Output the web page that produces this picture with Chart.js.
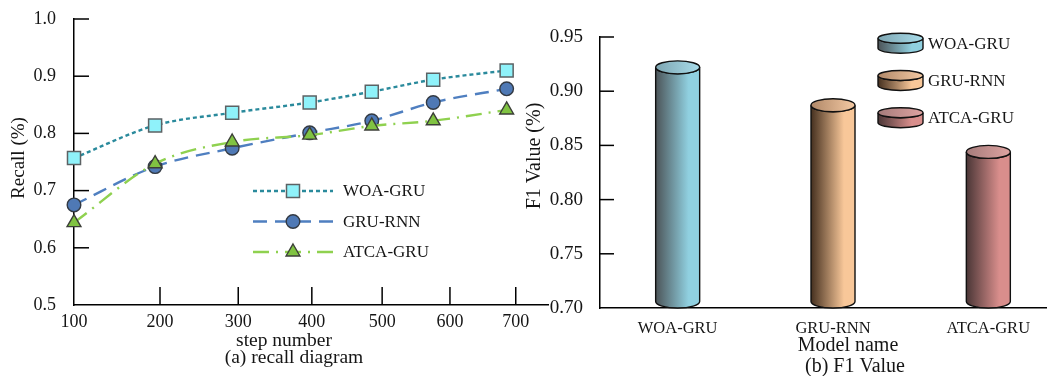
<!DOCTYPE html>
<html>
<head>
<meta charset="utf-8">
<script src="https://cdn.jsdelivr.net/npm/chart.js@4.4.1/dist/chart.umd.min.js"></script>
<style>
  html, body { margin: 0; padding: 0; background: #fff; overflow: hidden; }
  #wrap { position: relative; width: 1047px; height: 376px; overflow: hidden; }
  canvas { position: absolute; top: 0; }
  #recall { left: 0; }
  #f1 { left: 520px; }
</style>
</head>
<body>
<div id="wrap">
  <canvas id="recall" width="590" height="376"></canvas>
  <canvas id="f1" width="560" height="376"></canvas>
</div>
<script>
// ---- data: (a) recall per step number ----
const stepNumbers = [100, 194, 292, 397, 485, 575, 686];
const stepTicks   = [100, 200, 300, 400, 500, 600, 700];
const recallTicks = [0.5, 0.6, 0.7, 0.8, 0.9, 1.0];
const woaRecall   = [0.757, 0.814, 0.836, 0.854, 0.873, 0.894, 0.910];
const gruRecall   = [0.675, 0.742, 0.774, 0.801, 0.822, 0.854, 0.878];
const atcaRecall  = [0.644, 0.747, 0.785, 0.797, 0.813, 0.822, 0.841];

// ---- data: (b) F1 value per model ----
const f1Models = ['WOA-GRU', 'GRU-RNN', 'ATCA-GRU'];
const f1Values = [0.922, 0.887, 0.844];
const f1Ticks  = [0.70, 0.75, 0.80, 0.85, 0.90, 0.95];

const SERIF = "'Liberation Serif', 'Times New Roman', serif";
const INK = '#151515';
const STEP_EXPONENT = 0.82;

Chart.defaults.font.family = SERIF;
Chart.defaults.color = INK;

// Step axis: a linear scale with a mild power warp, compressing the larger steps
class PowerScale extends Chart.LinearScale {
  static id = 'power';
  static defaults = Chart.LinearScale.defaults;
  getPixelForValue(value) {
    const w = v => Math.pow(v, STEP_EXPONENT);
    const a = w(this.min), b = w(this.max);
    return this.getPixelForDecimal((w(value) - a) / (b - a));
  }
  getValueForPixel(pixel) {
    const a = Math.pow(this.min, STEP_EXPONENT), b = Math.pow(this.max, STEP_EXPONENT);
    return Math.pow(a + this.getDecimalForPixel(pixel) * (b - a), 1 / STEP_EXPONENT);
  }
}
Chart.register(PowerScale);

// Fixed axis thickness, without extra room reserved for edge labels
const fixWidth = w => s => { s.width = w; s.paddingTop = 0; s.paddingBottom = 0; };
const fixHeight = h => s => { s.height = h; s.paddingLeft = 0; s.paddingRight = 0; };

// Tick marks drawn on the inner side of the axes
const inwardTicks = {
  id: 'inwardTicks',
  beforeDatasetsDraw(chart, args, opts) {
    const { ctx, chartArea: a } = chart;
    const xs = chart.scales.x, ys = chart.scales.y;
    ctx.save();
    ctx.strokeStyle = '#000';
    ctx.lineWidth = 1.5;
    if (opts.x) {
      xs.ticks.forEach(t => {
        const px = xs.getPixelForValue(t.value);
        if (Math.abs(px - a.left) < 2) return;
        ctx.beginPath(); ctx.moveTo(px, a.bottom); ctx.lineTo(px, a.bottom - opts.x); ctx.stroke();
      });
    }
    if (opts.y) {
      ys.ticks.forEach(t => {
        const py = ys.getPixelForValue(t.value);
        if (Math.abs(py - a.bottom) < 2) return;
        ctx.beginPath(); ctx.moveTo(a.left, py); ctx.lineTo(a.left + opts.y, py); ctx.stroke();
      });
    }
    ctx.restore();
  }
};

// Axis titles and panel captions
const captions = {
  id: 'captions',
  afterDraw(chart, args, opts) {
    const ctx = chart.ctx;
    (opts.items || []).forEach(it => {
      ctx.save();
      ctx.font = it.size + 'px ' + SERIF;
      ctx.fillStyle = INK;
      ctx.textAlign = 'center';
      ctx.textBaseline = 'middle';
      ctx.translate(it.x, it.y);
      if (it.rotate) ctx.rotate(-Math.PI / 2);
      ctx.fillText(it.text, 0, 0);
      ctx.restore();
    });
  }
};

// Legend for the line panel: dashed stroke with its marker in the middle
const lineLegend = {
  id: 'lineLegend',
  afterDraw(chart, args, opts) {
    const ctx = chart.ctx;
    chart.data.datasets.forEach((ds, i) => {
      const y = opts.y + i * opts.gap;
      ctx.save();
      ctx.strokeStyle = ds.borderColor;
      ctx.lineWidth = ds.borderWidth;
      ctx.setLineDash(ds.borderDash || []);
      ctx.beginPath(); ctx.moveTo(opts.x0, y); ctx.lineTo(opts.x1, y); ctx.stroke();
      ctx.setLineDash([]);
      ctx.fillStyle = ds.pointBackgroundColor;
      ctx.strokeStyle = ds.pointBorderColor;
      ctx.lineWidth = ds.pointBorderWidth;
      Chart.helpers.drawPoint(ctx, { pointStyle: ds.pointStyle, rotation: 0, radius: ds.pointRadius, borderWidth: ds.pointBorderWidth }, (opts.x0 + opts.x1) / 2, y);
      ctx.font = opts.size + 'px ' + SERIF;
      ctx.fillStyle = INK;
      ctx.textAlign = 'left';
      ctx.textBaseline = 'middle';
      ctx.fillText(ds.label, opts.textX, y + 1);
      ctx.restore();
    });
  }
};

// Shaded cylinder shape used for the F1 bars and their legend keys
function cylinder(ctx, cx, topY, bottomY, rx, ry, pal) {
  const body = ctx.createLinearGradient(cx - rx, 0, cx + rx, 0);
  body.addColorStop(0, pal.dark);
  body.addColorStop(0.75, pal.light);
  body.addColorStop(1, pal.light);
  ctx.save();
  ctx.lineWidth = 1.4;
  ctx.strokeStyle = '#111';
  ctx.beginPath();
  ctx.moveTo(cx - rx, topY);
  ctx.lineTo(cx - rx, bottomY);
  ctx.ellipse(cx, bottomY, rx, ry, 0, Math.PI, 0, true);
  ctx.lineTo(cx + rx, topY);
  ctx.ellipse(cx, topY, rx, ry, 0, 0, Math.PI, false);
  ctx.closePath();
  ctx.fillStyle = body;
  ctx.fill();
  ctx.stroke();
  const lid = ctx.createLinearGradient(cx - rx, 0, cx + rx, 0);
  lid.addColorStop(0, pal.lidDark);
  lid.addColorStop(1, pal.lidLight);
  ctx.beginPath();
  ctx.ellipse(cx, topY, rx, ry, 0, 0, Math.PI * 2);
  ctx.fillStyle = lid;
  ctx.fill();
  ctx.stroke();
  ctx.restore();
}

const palettes = [
  { dark: '#4c5458', light: '#90d0e0', lidDark: '#7ea6b2', lidLight: '#a8dcea' },
  { dark: '#45301f', light: '#f8c799', lidDark: '#b08868', lidLight: '#f4c9a3' },
  { dark: '#4a3636', light: '#d98e8c', lidDark: '#a57c7b', lidLight: '#dfa3a1' }
];

const cylinders = {
  id: 'cylinders',
  afterDatasetsDraw(chart, args, opts) {
    const ctx = chart.ctx;
    const ys = chart.scales.y;
    const floor = ys.getPixelForValue(ys.min);
    const meta = chart.getDatasetMeta(0);
    meta.data.forEach((bar, i) => {
      const { x, y, width } = bar.getProps(['x', 'y', 'width'], true);
      cylinder(ctx, x, y, floor - opts.ry, width / 2, opts.ry, palettes[i]);
    });
    // legend keys
    const L = opts.legend;
    chart.data.labels.forEach((name, i) => {
      const cy = L.y + i * L.gap;
      cylinder(ctx, L.x + L.w / 2, cy - 5, cy + 5, L.w / 2, 5, palettes[i]);
      ctx.save();
      ctx.font = L.size + 'px ' + SERIF;
      ctx.fillStyle = INK;
      ctx.textAlign = 'left';
      ctx.textBaseline = 'middle';
      ctx.fillText(name, L.x + L.w + 5, cy + 1);
      ctx.restore();
    });
  }
};

const pts = vals => stepNumbers.map((s, i) => ({ x: s, y: vals[i] }));

new Chart(document.getElementById('recall'), {
  type: 'line',
  data: {
    datasets: [
      { label: 'WOA-GRU', data: pts(woaRecall), borderColor: '#2a8a9c', borderDash: [4, 3], borderWidth: 2.4,
        pointStyle: 'rect', pointRadius: 9.2, pointBackgroundColor: '#8ff2fa', pointBorderColor: '#5c6264', pointBorderWidth: 1.5,
        cubicInterpolationMode: 'monotone', clip: false, order: 2 },
      { label: 'GRU-RNN', data: pts(gruRecall), borderColor: '#4f7fc0', borderDash: [14, 8], borderWidth: 2.4,
        pointStyle: 'circle', pointRadius: 6.8, pointBackgroundColor: '#4f79b5', pointBorderColor: '#333a44', pointBorderWidth: 1.4,
        cubicInterpolationMode: 'monotone', clip: false, order: 1 },
      { label: 'ATCA-GRU', data: pts(atcaRecall), borderColor: '#8fd14f', borderDash: [16, 7, 2, 7], borderWidth: 2.4,
        pointStyle: 'triangle', pointRadius: 8, pointBackgroundColor: '#80c342', pointBorderColor: '#3c3f38', pointBorderWidth: 1.4,
        cubicInterpolationMode: 'monotone', clip: false, order: 0 }
    ]
  },
  options: {
    responsive: false,
    animation: false,
    devicePixelRatio: 1,
    layout: { autoPadding: false, padding: { left: 0, top: 19, right: 42, bottom: 0 } },
    scales: {
      x: {
        type: 'power', min: 100, max: 750,
        afterBuildTicks: s => { s.ticks = stepTicks.map(v => ({ value: v })); },
        afterFit: fixHeight(71),
        grid: { display: false, drawTicks: false },
        border: { display: true, color: '#000', width: 1.5 },
        ticks: { padding: 6, font: { size: 18 }, color: INK, maxRotation: 0, autoSkip: false }
      },
      y: {
        type: 'linear', min: 0.5, max: 1.0,
        afterBuildTicks: s => { s.ticks = recallTicks.map(v => ({ value: v })); },
        afterFit: fixWidth(74),
        grid: { display: false, drawTicks: false },
        border: { display: true, color: '#000', width: 1.5 },
        ticks: { padding: 18, font: { size: 18 }, color: INK, callback: v => Number(v).toFixed(1) }
      }
    },
    plugins: {
      legend: { display: false },
      tooltip: { enabled: false },
      inwardTicks: { x: 18, y: 15 },
      lineLegend: { x0: 253, x1: 333, textX: 343, y: 191, gap: 30.5, size: 17 },
      captions: { items: [
        { text: 'Recall (%)', x: 19, y: 158, size: 19, rotate: true },
        { text: 'step number', x: 284, y: 341, size: 19.5 },
        { text: '(a) recall diagram', x: 294, y: 358, size: 19.5 }
      ] }
    }
  },
  plugins: [inwardTicks, lineLegend, captions]
});

new Chart(document.getElementById('f1'), {
  type: 'bar',
  data: {
    labels: f1Models,
    datasets: [{ label: 'F1 Value', data: f1Values, backgroundColor: 'rgba(0,0,0,0)', borderWidth: 0, barThickness: 44 }]
  },
  options: {
    responsive: false,
    animation: false,
    devicePixelRatio: 1,
    layout: { autoPadding: false, padding: { left: 0, top: 37, right: 14, bottom: 0 } },
    scales: {
      x: {
        afterFit: fixHeight(68),
        grid: { display: false, drawTicks: false },
        border: { display: true, color: '#000', width: 1.5 },
        ticks: { padding: 11, font: { size: 16.5 }, color: INK, maxRotation: 0, autoSkip: false }
      },
      y: {
        type: 'linear', min: 0.70, max: 0.95,
        afterBuildTicks: s => { s.ticks = f1Ticks.map(v => ({ value: v })); },
        afterFit: fixWidth(80),
        grid: { display: false, drawTicks: false },
        border: { display: true, color: '#000', width: 1.5 },
        ticks: { padding: 17, font: { size: 19 }, color: INK, callback: v => Number(v).toFixed(2) }
      }
    },
    plugins: {
      legend: { display: false },
      tooltip: { enabled: false },
      inwardTicks: { y: 14 },
      cylinders: { ry: 6.5, legend: { x: 358, y: 43.3, gap: 37.2, w: 45, size: 17 } },
      captions: { items: [
        { text: 'F1 Value (%)', x: 15, y: 156, size: 20, rotate: true },
        { text: 'Model name', x: 328, y: 346, size: 20 },
        { text: '(b) F1 Value', x: 335, y: 367, size: 20 }
      ] }
    }
  },
  plugins: [inwardTicks, cylinders, captions]
});
</script>
</body>
</html>
